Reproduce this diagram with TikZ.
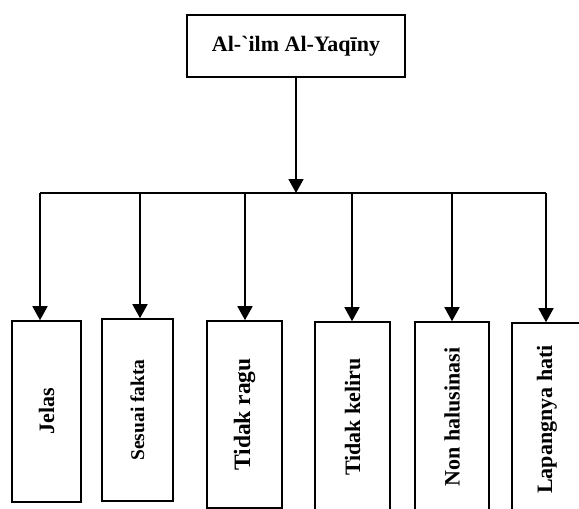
\documentclass[tikz,border=0pt]{standalone}
\usepackage{fontspec}
\usepackage{graphicx}
\setmainfont{Liberation Serif}
\usetikzlibrary{arrows.meta}

\tikzstyle{every node}=[draw, line width=1.6pt, inner sep=0pt, font=\bfseries\fontsize{22}{24}\selectfont]
\tikzstyle{leaf}=[minimum width=72pt, minimum height=184pt]
\tikzstyle{link}=[line width=1.6pt]
\tikzstyle{arr}=[link, -{Triangle[width=15pt,length=14pt]}]

\begin{document}
\begin{tikzpicture}[x=1pt, y=-1pt]
    \useasboundingbox (0,0) rectangle (579,509);
    \node (n0) at (296,46) [minimum width=218pt, minimum height=62pt] {Al-\textasciigrave ilm Al-Yaqīny};
    \node (n1) at (46.5,411.5) [leaf, minimum width=69pt, minimum height=181pt] {\rotatebox{90}{Jelas}};
    \node (n2) at (137.5,410) [leaf, minimum width=71pt, minimum height=182pt, font=\bfseries\fontsize{19.5}{22}\selectfont] {\rotatebox{90}{Sesuai fakta}};
    \node (n3) at (244.5,414.5) [leaf, minimum width=75pt, minimum height=187pt, font=\bfseries\fontsize{23.5}{26}\selectfont] {\rotatebox{90}{Tidak ragu}};
    \node (n4) at (352.5,417) [leaf, minimum width=75pt, minimum height=190pt] {\rotatebox{90}{Tidak keliru}};
    \node (n5) at (452,417) [leaf, minimum width=74pt, minimum height=190pt] {\rotatebox{90}{Non halusinasi}};
    \node (n6) at (547,419.5) [leaf, minimum width=70pt, minimum height=193pt] {\rotatebox{90}{Lapangnya hati}};
    \coordinate (t) at (296,193);
    \coordinate (b1) at (40,193);
    \coordinate (b2) at (140,193);
    \coordinate (b3) at (245,193);
    \coordinate (b4) at (352,193);
    \coordinate (b5) at (452,193);
    \coordinate (b6) at (546,193);
    \draw[arr] (n0) -- (t);
    \draw[link] (b1) -- (b6);
    \draw[arr] (b1) -- (b1 |- n1.north);
    \draw[arr] (b2) -- (b2 |- n2.north);
    \draw[arr] (b3) -- (b3 |- n3.north);
    \draw[arr] (b4) -- (b4 |- n4.north);
    \draw[arr] (b5) -- (b5 |- n5.north);
    \draw[arr] (b6) -- (b6 |- n6.north);
\end{tikzpicture}
\end{document}
